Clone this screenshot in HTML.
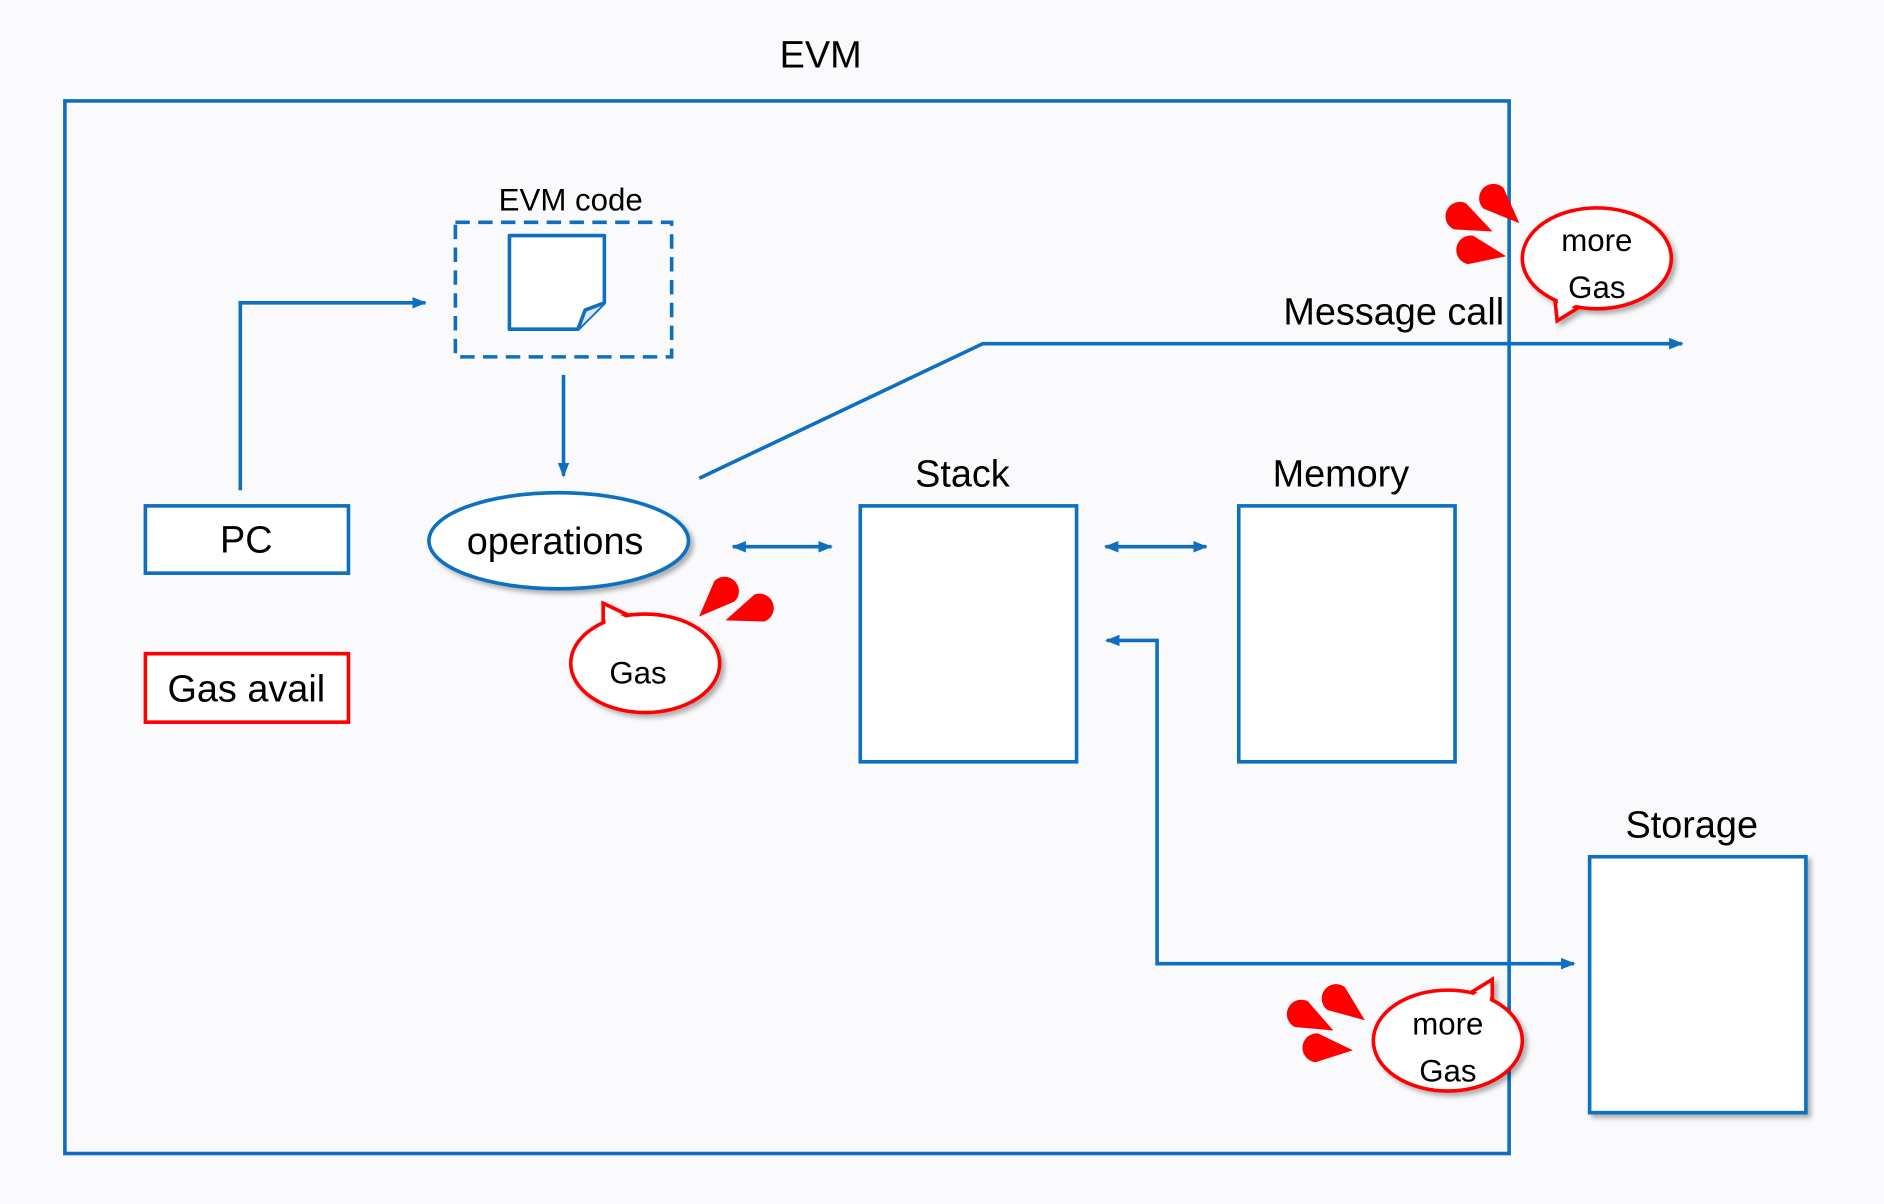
<!DOCTYPE html>
<html><head><meta charset="utf-8"><style>
html,body{margin:0;padding:0;background:#fafafd;}
svg{display:block;}
text{font-family:"Liberation Sans",Arial,sans-serif;fill:#000;}
</style></head><body>
<svg width="1884" height="1204" viewBox="0 0 1568 1002" preserveAspectRatio="none" xmlns="http://www.w3.org/2000/svg">
<defs>
<marker id="ah" viewBox="0 0 10 10" refX="9" refY="5" markerWidth="4" markerHeight="4" orient="auto-start-reverse" markerUnits="strokeWidth">
<path d="M0,1 L10,5 L0,9 Z" fill="#0e6fc0"/></marker>
<filter id="sh" x="-20%" y="-20%" width="150%" height="150%"><feDropShadow dx="3" dy="3" stdDeviation="2" flood-color="#000" flood-opacity="0.3"/></filter>
<path id="drop" d="M0,-12 A12 12 0 1 0 0,12 L30,0 Z" fill="#f00"/>
</defs>
<rect width="1568" height="1002" fill="#fafafd"/>
<text x="683" y="56" font-size="31.5" text-anchor="middle">EVM</text>
<rect x="54" y="84" width="1202" height="876" fill="none" stroke="#0e6fc0" stroke-width="3"/>

<text x="475" y="175" font-size="26" text-anchor="middle">EVM code</text>
<rect x="379" y="185" width="180" height="112" fill="none" stroke="#0e6fc0" stroke-width="3" stroke-dasharray="12,7"/>
<path d="M424,196 H503 V252 L481,274 H424 Z" fill="#fff" stroke="#0e6fc0" stroke-width="3" stroke-linejoin="round"/>
<path d="M481,274 L487,258 L503,252" fill="#dde8f5" stroke="#0e6fc0" stroke-width="3" stroke-linejoin="round"/>

<polyline points="200,408 200,252 354,252" fill="none" stroke="#0e6fc0" stroke-width="3" marker-end="url(#ah)"/>
<line x1="469" y1="312" x2="469" y2="396" stroke="#0e6fc0" stroke-width="3" marker-end="url(#ah)"/>

<ellipse cx="465" cy="450" rx="108" ry="40" fill="#fff" stroke="#0e6fc0" stroke-width="3" filter="url(#sh)"/>
<text x="462" y="461" font-size="31.5" text-anchor="middle">operations</text>

<rect x="121" y="421" width="169" height="56" fill="#fff" stroke="#0e6fc0" stroke-width="3"/>
<text x="205" y="460" font-size="31.5" text-anchor="middle">PC</text>
<rect x="121" y="544" width="169" height="57" fill="#fff" stroke="#f00" stroke-width="3"/>
<text x="205" y="584" font-size="31.5" text-anchor="middle">Gas avail</text>

<line x1="610" y1="455" x2="692" y2="455" stroke="#0e6fc0" stroke-width="3" marker-start="url(#ah)" marker-end="url(#ah)"/>
<line x1="920" y1="455" x2="1004" y2="455" stroke="#0e6fc0" stroke-width="3" marker-start="url(#ah)" marker-end="url(#ah)"/>

<text x="801" y="405" font-size="31.5" text-anchor="middle">Stack</text>
<rect x="716" y="421" width="180" height="213" fill="#fff" stroke="#0e6fc0" stroke-width="3"/>
<text x="1116" y="405" font-size="31.5" text-anchor="middle">Memory</text>
<rect x="1031" y="421" width="180" height="213" fill="#fff" stroke="#0e6fc0" stroke-width="3"/>

<polyline points="582,398 818,286 1400,286" fill="none" stroke="#0e6fc0" stroke-width="3" marker-end="url(#ah)"/>
<text x="1160" y="270" font-size="31.5" text-anchor="middle">Message call</text>

<polyline points="921,533 963,533 963,802 1310,802" fill="none" stroke="#0e6fc0" stroke-width="3" marker-start="url(#ah)" marker-end="url(#ah)"/>

<text x="1408" y="697" font-size="31.5" text-anchor="middle">Storage</text>
<rect x="1323" y="713" width="180" height="213" fill="#fff" stroke="#0e6fc0" stroke-width="3" filter="url(#sh)"/>

<g filter="url(#sh)">
<polygon points="502,518 502,502 523,512" fill="#fff" stroke="#f00" stroke-width="3" stroke-linejoin="miter"/>
<ellipse cx="537" cy="552" rx="62" ry="41" fill="#fff" stroke="#f00" stroke-width="3"/>
</g>
<polygon points="504,520 504,506 521,514 515,522" fill="#fff"/>
<text x="531" y="569" font-size="26" text-anchor="middle">Gas</text>
<use href="#drop" transform="translate(603,492) rotate(135)"/>
<use href="#drop" transform="translate(632,506) rotate(160)"/>

<g filter="url(#sh)">
<polygon points="1294,248 1296,267 1317,254" fill="#fff" stroke="#f00" stroke-width="3"/>
<ellipse cx="1329" cy="215" rx="62" ry="42" fill="#fff" stroke="#f00" stroke-width="3"/>
</g>
<polygon points="1296,246 1298,262 1314,252 1310,244" fill="#fff"/>
<text x="1329" y="209" font-size="26" text-anchor="middle">more</text>
<text x="1329" y="248" font-size="26" text-anchor="middle">Gas</text>
<use href="#drop" transform="translate(1215,180) rotate(25)"/>
<use href="#drop" transform="translate(1243,165) rotate(44)"/>
<use href="#drop" transform="translate(1224,208) rotate(10)"/>

<g filter="url(#sh)">
<polygon points="1221,828 1242,815 1242,835" fill="#fff" stroke="#f00" stroke-width="3"/>
<ellipse cx="1205" cy="866" rx="62" ry="42" fill="#fff" stroke="#f00" stroke-width="3"/>
</g>
<polygon points="1222,831 1240,819 1240,838 1228,836" fill="#fff"/>
<text x="1205" y="861" font-size="26" text-anchor="middle">more</text>
<text x="1205" y="900" font-size="26" text-anchor="middle">Gas</text>
<use href="#drop" transform="translate(1083,844) rotate(27)"/>
<use href="#drop" transform="translate(1112,831) rotate(37)"/>
<use href="#drop" transform="translate(1096,872) rotate(4)"/>
</svg>
</body></html>
